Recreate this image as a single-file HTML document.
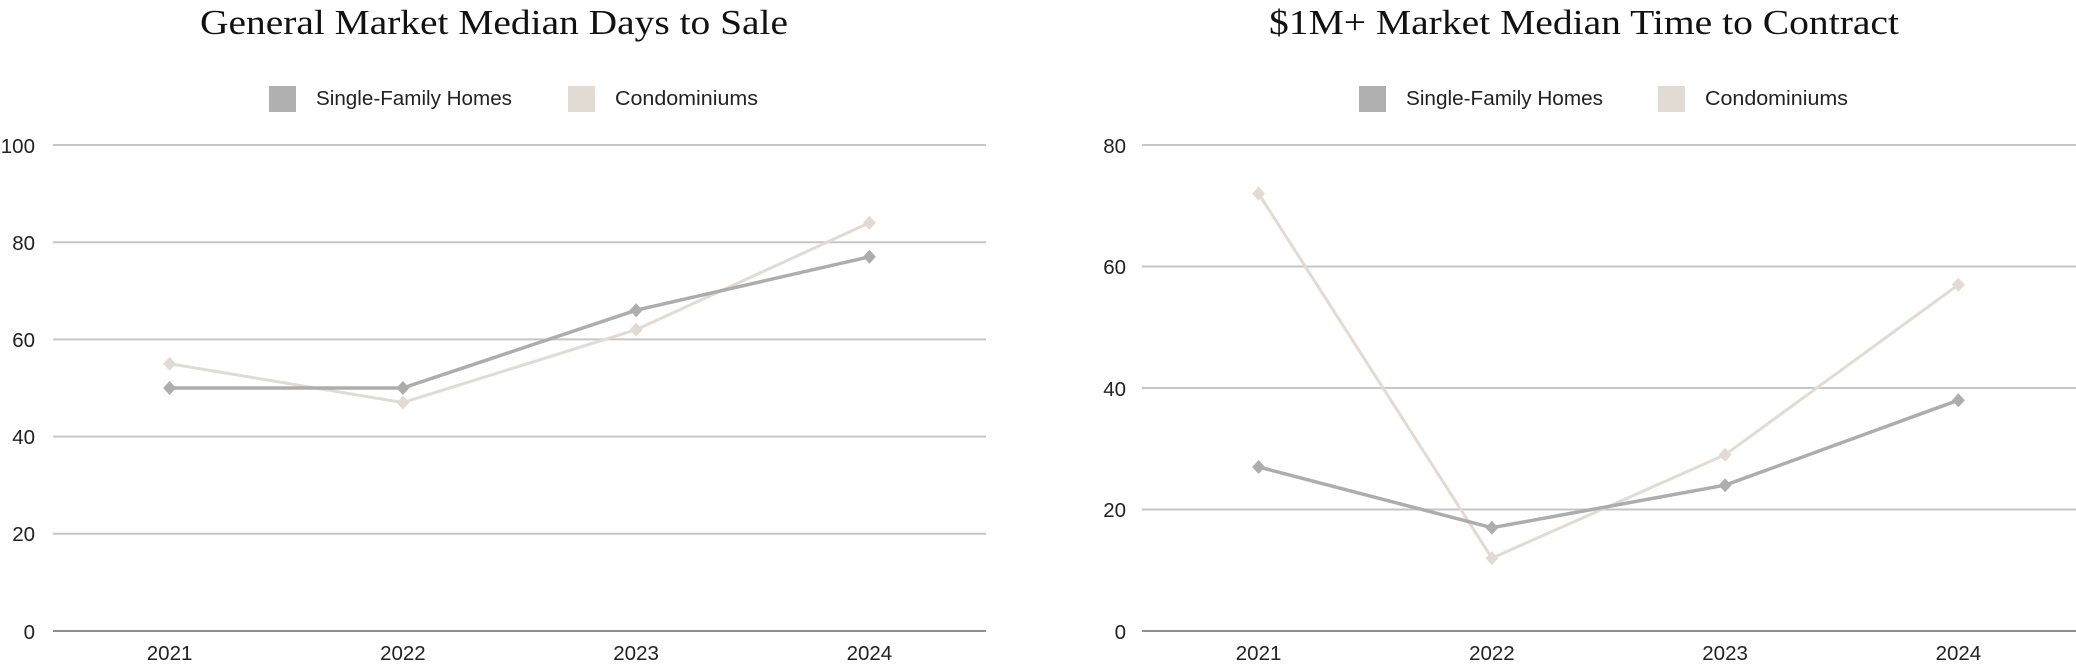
<!DOCTYPE html>
<html>
<head>
<meta charset="utf-8">
<style>
  html,body{margin:0;padding:0;background:#fff;}
  svg{display:block;}
  .tick{font-family:"Liberation Sans",sans-serif;font-size:20.5px;fill:#222;}
  .leg{font-family:"Liberation Sans",sans-serif;font-size:20px;fill:#222;}
  .title{font-family:"Liberation Serif",serif;font-size:35px;fill:#111;}
</style>
</head>
<body>
<svg width="2076" height="665" viewBox="0 0 2076 665" xmlns="http://www.w3.org/2000/svg">
  <rect width="2076" height="665" fill="#fff"/>

  <!-- ================= LEFT CHART ================= -->
  <text class="title" x="200" y="34" textLength="588" lengthAdjust="spacingAndGlyphs">General Market Median Days to Sale</text>

  <!-- legend -->
  <rect x="269" y="86" width="27" height="26" fill="#b0b0b0"/>
  <text class="leg" x="316" y="105" textLength="196" lengthAdjust="spacingAndGlyphs">Single-Family Homes</text>
  <rect x="568" y="86" width="27" height="26" fill="#e2dbd3"/>
  <text class="leg" x="615" y="105" textLength="143" lengthAdjust="spacingAndGlyphs">Condominiums</text>

  <!-- gridlines -->
  <g stroke="#c6c6c6" stroke-width="2">
    <line x1="53" y1="145" x2="986" y2="145"/>
    <line x1="53" y1="242.2" x2="986" y2="242.2"/>
    <line x1="53" y1="339.4" x2="986" y2="339.4"/>
    <line x1="53" y1="436.6" x2="986" y2="436.6"/>
    <line x1="53" y1="533.8" x2="986" y2="533.8"/>
  </g>
  <line x1="53" y1="631" x2="986" y2="631" stroke="#8e8e8e" stroke-width="2"/>

  <!-- y labels -->
  <g class="tick" text-anchor="end">
    <text x="35" y="153">100</text>
    <text x="35" y="250">80</text>
    <text x="35" y="347">60</text>
    <text x="35" y="444">40</text>
    <text x="35" y="541">20</text>
    <text x="35" y="639">0</text>
  </g>
  <!-- x labels -->
  <g class="tick" text-anchor="middle">
    <text x="169.6" y="660">2021</text>
    <text x="402.9" y="660">2022</text>
    <text x="636.1" y="660">2023</text>
    <text x="869.4" y="660">2024</text>
  </g>

  <!-- condo series -->
  <polyline fill="none" stroke="#e2dbd3" stroke-width="3" stroke-linejoin="round"
    points="169.6,363.7 402.9,402.6 636.1,329.7 869.4,222.8"/>
  <g fill="#e2dbd3">
    <polygon points="169.6,356.7 176.1,363.7 169.6,370.7 163.1,363.7"/>
    <polygon points="402.9,395.6 409.4,402.6 402.9,409.6 396.4,402.6"/>
    <polygon points="636.1,322.7 642.6,329.7 636.1,336.7 629.6,329.7"/>
    <polygon points="869.4,215.8 875.9,222.8 869.4,229.8 862.9,222.8"/>
  </g>
  <!-- SFH series -->
  <polyline fill="none" stroke="#adadad" stroke-width="3.5" stroke-linejoin="round"
    points="169.6,388 402.9,388 636.1,310.2 869.4,256.8"/>
  <g fill="#adadad">
    <polygon points="169.6,381 176.1,388 169.6,395 163.1,388"/>
    <polygon points="402.9,381 409.4,388 402.9,395 396.4,388"/>
    <polygon points="636.1,303.2 642.6,310.2 636.1,317.2 629.6,310.2"/>
    <polygon points="869.4,249.8 875.9,256.8 869.4,263.8 862.9,256.8"/>
  </g>

  <!-- ================= RIGHT CHART ================= -->
  <text class="title" x="1269" y="34" textLength="630" lengthAdjust="spacingAndGlyphs">$1M+ Market Median Time to Contract</text>

  <!-- legend -->
  <rect x="1359" y="86" width="27" height="26" fill="#b0b0b0"/>
  <text class="leg" x="1406" y="105" textLength="197" lengthAdjust="spacingAndGlyphs">Single-Family Homes</text>
  <rect x="1658" y="86" width="27" height="26" fill="#e2dbd3"/>
  <text class="leg" x="1705" y="105" textLength="143" lengthAdjust="spacingAndGlyphs">Condominiums</text>

  <!-- gridlines -->
  <g stroke="#c6c6c6" stroke-width="2">
    <line x1="1142" y1="145" x2="2076" y2="145"/>
    <line x1="1142" y1="266.5" x2="2076" y2="266.5"/>
    <line x1="1142" y1="388" x2="2076" y2="388"/>
    <line x1="1142" y1="509.5" x2="2076" y2="509.5"/>
  </g>
  <line x1="1142" y1="631" x2="2076" y2="631" stroke="#8e8e8e" stroke-width="2"/>

  <g class="tick" text-anchor="end">
    <text x="1126" y="153">80</text>
    <text x="1126" y="274">60</text>
    <text x="1126" y="396">40</text>
    <text x="1126" y="517">20</text>
    <text x="1126" y="639">0</text>
  </g>
  <g class="tick" text-anchor="middle">
    <text x="1258.6" y="660">2021</text>
    <text x="1491.9" y="660">2022</text>
    <text x="1725.1" y="660">2023</text>
    <text x="1958.4" y="660">2024</text>
  </g>

  <!-- condo series -->
  <polyline fill="none" stroke="#e2dbd3" stroke-width="3" stroke-linejoin="round"
    points="1258.6,193.6 1491.9,558.1 1725.1,454.8 1958.4,284.7"/>
  <g fill="#e2dbd3">
    <polygon points="1258.6,186.6 1265.1,193.6 1258.6,200.6 1252.1,193.6"/>
    <polygon points="1491.9,551.1 1498.4,558.1 1491.9,565.1 1485.4,558.1"/>
    <polygon points="1725.1,447.8 1731.6,454.8 1725.1,461.8 1718.6,454.8"/>
    <polygon points="1958.4,277.7 1964.9,284.7 1958.4,291.7 1951.9,284.7"/>
  </g>
  <!-- SFH series -->
  <polyline fill="none" stroke="#adadad" stroke-width="3.5" stroke-linejoin="round"
    points="1258.6,467 1491.9,527.7 1725.1,485.2 1958.4,400.2"/>
  <g fill="#adadad">
    <polygon points="1258.6,460 1265.1,467 1258.6,474 1252.1,467"/>
    <polygon points="1491.9,520.7 1498.4,527.7 1491.9,534.7 1485.4,527.7"/>
    <polygon points="1725.1,478.2 1731.6,485.2 1725.1,492.2 1718.6,485.2"/>
    <polygon points="1958.4,393.2 1964.9,400.2 1958.4,407.2 1951.9,400.2"/>
  </g>
</svg>
</body>
</html>
